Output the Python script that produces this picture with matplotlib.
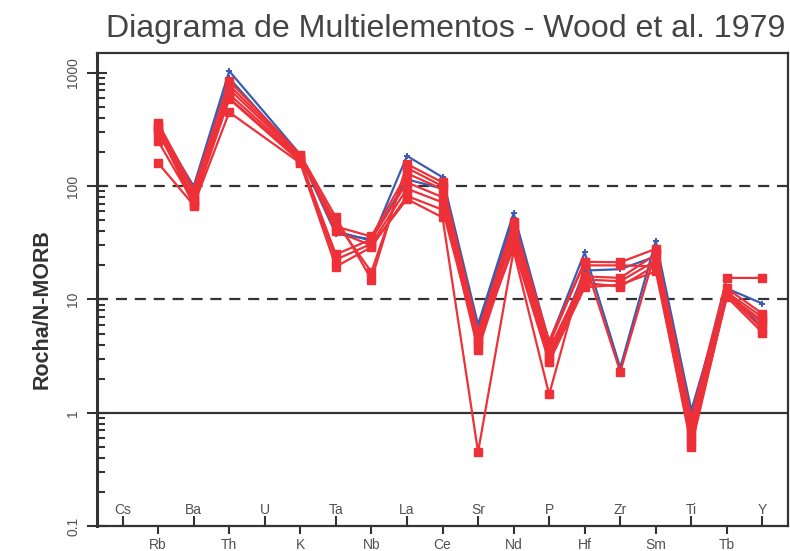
import numpy as np
import matplotlib
matplotlib.use("Agg")
import matplotlib.pyplot as plt
from matplotlib.ticker import FixedLocator, NullFormatter

plt.rcParams['font.family'] = ['Liberation Sans', 'DejaVu Sans']

# Element order of the spider diagram (N-MORB normalised)
elements = ['Cs', 'Rb', 'Ba', 'Th', 'U', 'K', 'Ta', 'Nb', 'La', 'Ce',
            'Sr', 'Nd', 'P', 'Hf', 'Zr', 'Sm', 'Ti', 'Tb', 'Y']

# Elements with analysed values (Cs and U not determined)
plotted = ['Rb', 'Ba', 'Th', 'K', 'Ta', 'Nb', 'La', 'Ce', 'Sr', 'Nd',
           'P', 'Hf', 'Zr', 'Sm', 'Ti', 'Tb', 'Y']

# Rock / N-MORB ratios
blue_1 = [330, 100, 1040, 190, 40, 33, 185, 120, 6.0, 58, 4.2, 26, 2.5, 33, 1.05, 12.5, 9.2]
blue_2 = [300, 90, 900, 180, 38, 34, 115, 95, 5.5, 52, 3.0, 18, 18.5, 24, 0.95, 12.0, 5.6]

red_1 = [360, 95, 850, 190, 53, 15, 157, 108, 5.2, 48, 4.3, 21.5, 21.3, 28, 0.90, 15.5, 15.5]
red_2 = [340, 88, 720, 180, 48, 17.5, 145, 100, 4.8, 45, 4.0, 21.5, 2.3, 27, 0.78, 12.5, 7.5]
red_3 = [310, 80, 650, 175, 44, 36, 130, 94, 4.4, 42, 3.6, 16, 15.5, 25, 0.72, 11.5, 7.0]
red_4 = [300, 75, 600, 170, 25, 34, 108, 80, 4.0, 38, 3.3, 15, 14.5, 22, 0.65, 11.0, 6.5]
red_5 = [250, 72, 590, 165, 22.5, 31, 95, 72, 3.6, 33, 3.0, 14, 13.0, 20, 0.60, 10.8, 6.2]
red_6 = [160, 68, 450, 160, 19.5, 29, 82, 62, 4.2, 29, 2.8, 12.8, 13.5, 17.7, 0.55, 10.5, 5.1]
red_7 = [330, 67, 780, 185, 40, 30, 77, 53, 0.45, 27, 1.45, 20, 20, 19.6, 0.50, 11.0, 5.5]

blue_samples = [blue_1, blue_2]
red_samples = [red_1, red_2, red_3, red_4, red_5, red_6, red_7]

RED = '#ee3139'
BLUE = '#3b5cb0'
DARK = '#333333'
GREY = '#505050'

fig = plt.figure(figsize=(7.9, 5.51), dpi=100)
ax = fig.add_axes([0.1228, 0.0454, 0.8747, 0.8584])

xpos = [elements.index(e) for e in plotted]

for s in blue_samples:
    ax.plot(xpos, s, color=BLUE, lw=1.6, marker='+', ms=5, mew=1.4, zorder=3)
for s in red_samples:
    ax.plot(xpos, s, color=RED, lw=1.6, marker='s', ms=5.8, mec=RED, zorder=4)

# reference lines
ax.axhline(100, color=DARK, lw=1.6, ls=(0, (5, 3.5)), zorder=2)
ax.axhline(10, color=DARK, lw=1.6, ls=(0, (5, 3.5)), zorder=2)
ax.axhline(1, color=DARK, lw=1.6, zorder=2)

ax.set_yscale('log')
ax.set_ylim(0.1, 1500)
ax.set_xlim(-0.72, 18.72)

# y axis: decade labels rotated, minor ticks inside
ax.yaxis.set_major_locator(FixedLocator([0.1, 1, 10, 100, 1000]))
ax.set_yticklabels(['0.1', '1', '10', '100', '1000'])
minor = [m * 10.0 ** d for d in range(-1, 3) for m in range(2, 10)]
ax.yaxis.set_minor_locator(FixedLocator(minor))
ax.yaxis.set_minor_formatter(NullFormatter())
ax.tick_params(axis='y', which='major', direction='inout', length=14, width=1.5,
               color=DARK, labelsize=10, labelcolor=GREY, pad=5)
ax.tick_params(axis='y', which='minor', direction='in', length=6, width=1.5, color=DARK)
for lab in ax.get_yticklabels():
    lab.set_rotation(90)
    lab.set_va('center')

# x axis: alternating labels, odd ones below the axis, even ones inside
odd = [i for i in range(len(elements)) if i % 2 == 1]
even = [i for i in range(len(elements)) if i % 2 == 0]
ax.set_xticks(odd)
ax.set_xticklabels([elements[i] for i in odd])
ax.set_xticks(even, minor=True)
ax.set_xticklabels([elements[i] for i in even], minor=True)
ax.tick_params(axis='x', which='major', direction='out', length=5.5, width=1.5,
               color=DARK, labelsize=10, labelcolor=GREY, pad=3.5)
ax.tick_params(axis='x', which='minor', direction='in', length=7, width=1.5,
               color=DARK, labelsize=10, labelcolor=GREY, pad=-16.5)

for sp in ax.spines.values():
    sp.set_color(DARK)
    sp.set_linewidth(1.6)
ax.spines['left'].set_linewidth(2.2)

ax.set_ylabel('Rocha/N-MORB', fontsize=15.5, fontweight='bold', color=DARK)
ax.yaxis.set_label_coords(-0.064, 0.459)
fig.text(0.994, 0.947, 'Diagrama de Multielementos - Wood et al. 1979',
         fontsize=23.1, color='#444444', ha='right', va='center')

fig.savefig('out.png', dpi=100)
